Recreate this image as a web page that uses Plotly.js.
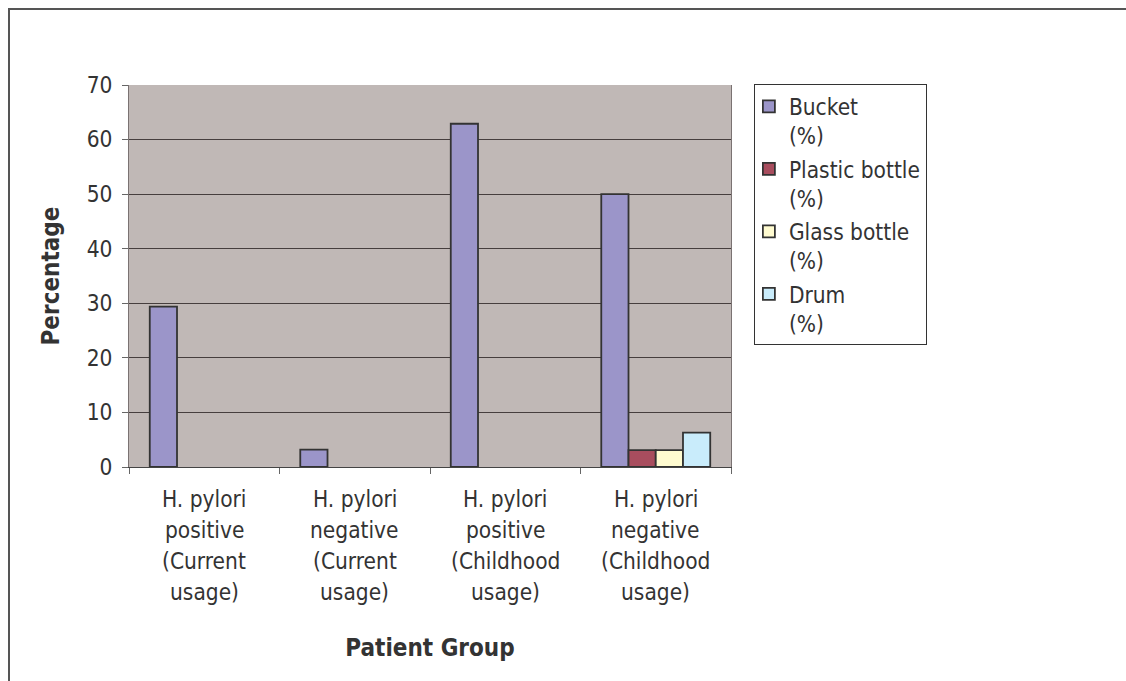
<!DOCTYPE html>
<html>
<head>
<meta charset="utf-8">
<script src="https://cdn.plot.ly/plotly-3.0.1.min.js"></script>
<style>
  html, body { margin: 0; padding: 0; width: 1126px; height: 681px; overflow: hidden; background: #fff; }
  #frame { position: absolute; left: 8px; top: 8px; width: 1200px; height: 800px; border: 2px solid #555; pointer-events: none; }
  #chart { position: absolute; left: 0; top: 0; width: 1126px; height: 681px; }
</style>
</head>
<body>
<div id="chart"></div>
<div id="frame"></div>
<script>
// ---- data ----
const categoryLines = [
  ["H. pylori", "positive", "(Current", "usage)"],
  ["H. pylori", "negative", "(Current", "usage)"],
  ["H. pylori", "positive", "(Childhood", "usage)"],
  ["H. pylori", "negative", "(Childhood", "usage)"]
];
const categories = categoryLines.map(l => l.join(" "));
const seriesNames = ["Bucket<br>(%)", "Plastic bottle<br>(%)", "Glass bottle<br>(%)", "Drum<br>(%)"];
// null = no bar drawn for that group
const bucket        = [29.4, 3.2, 62.9, 50.0];
const plasticBottle = [null, null, null, 3.1];
const glassBottle   = [null, null, null, 3.1];
const drum          = [null, null, null, 6.3];
const yTicks = [0, 10, 20, 30, 40, 50, 60, 70];

// ---- styles ----
const FONT = "DejaVu Sans Condensed, DejaVu Sans, sans-serif";
const TXT = "#333333";
const FS = 22.5;
const FSB = 24;
const colors = ["#9B95C9", "#A84D5E", "#FFFBD0", "#C9ECFB"];
const seriesValues = [bucket, plasticBottle, glassBottle, drum];

const traces = seriesValues.map((vals, i) => ({
  type: "bar",
  name: seriesNames[i],
  x: categories,
  y: vals,
  legendgroup: "g" + i,
  marker: { color: colors[i], line: { color: "#333333", width: 1.8 } }
}));

const annotations = [];
categoryLines.forEach((lines, i) => {
  lines.forEach((line, j) => {
    annotations.push({
      xref: "x", yref: "paper", x: categories[i], y: 0,
      text: line, showarrow: false, yanchor: "middle", xanchor: "center",
      yshift: -32 - 31 * j,
      font: { family: FONT, size: FS, color: TXT }
    });
  });
});

const layout = {
  width: 1126, height: 681,
  margin: { l: 129, r: 395, t: 85, b: 214 },
  paper_bgcolor: "rgba(0,0,0,0)",
  plot_bgcolor: "#C0B8B6",
  barmode: "group",
  bargap: 0.276,
  bargroupgap: 0,
  font: { family: FONT, size: FS, color: TXT },
  xaxis: {
    type: "category",
    range: [-0.5, 3.5],
    tickson: "boundaries",
    ticks: "outside", ticklen: 6, tickcolor: "#666", tickwidth: 1,
    showticklabels: false,
    showgrid: false,
    showline: true, linecolor: "#444", linewidth: 1,
    zeroline: false,
    automargin: false,
    title: { text: "<b>Patient Group</b>", font: { family: FONT, size: FSB, color: TXT }, standoff: 172 }
  },
  yaxis: {
    range: [0, 70],
    tickvals: yTicks,
    ticks: "outside", ticklen: 6, tickcolor: "#666", tickwidth: 1,
    ticklabelstandoff: 5,
    tickfont: { family: FONT, size: FS, color: TXT },
    showgrid: true, gridcolor: "#463E3E", gridwidth: 1,
    showline: true, linecolor: "#7A7272", linewidth: 1, mirror: true,
    zeroline: false,
    automargin: false,
    title: { text: "<b>Percentage</b>", font: { family: FONT, size: FSB, color: TXT }, standoff: 20 }
  },
  showlegend: true,
  legend: {
    x: 1.038, xanchor: "left", y: 1.002, yanchor: "top",
    bgcolor: "#ffffff", bordercolor: "#333333", borderwidth: 1,
    font: { family: FONT, size: FS, color: TXT },
    traceorder: "grouped", tracegroupgap: 1,
    itemwidth: 30, valign: "top", indentation: -6
  },
  annotations: annotations
};

Plotly.newPlot("chart", traces, layout, { staticPlot: true, displayModeBar: false });
</script>
</body>
</html>
